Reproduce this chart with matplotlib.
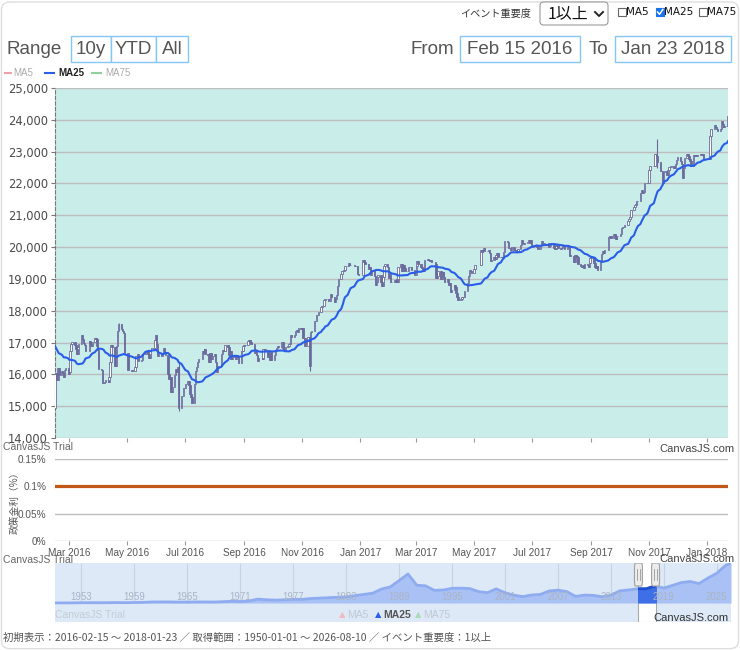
import numpy as np
import pandas as pd
import matplotlib
matplotlib.use("Agg")
import matplotlib.pyplot as plt
import matplotlib.dates as mdates
import matplotlib.transforms as mtransforms
from matplotlib.patches import Rectangle, FancyBboxPatch
from matplotlib.lines import Line2D

W, H = 740, 650
NARROW = ["Liberation Sans Narrow", "Liberation Sans", "DejaVu Sans"]
CJK = ["Noto Sans CJK JP", "DejaVu Sans"]

# --- data ---------------------------------------------------------------
# closes 2016-01-08 .. 2016-02-12 (not shown, used for MA25 and the first open)
prior_close = [17698, 17219, 17716, 17241, 17147, 16956, 17049, 16417, 16018, 16959,
               17111, 16709, 17164, 17041, 17518, 17866, 17751, 17192, 17045, 16820,
               17005, 16085, 15713, 14953]

# daily closes 2016-02-15 .. 2018-01-23
close = [
    # 2016-02
    16022, 16054, 15836, 16197, 15967, 16111, 16052, 15916, 16140, 16188, 16027,
    # 2016-03
    16085, 16747, 16960, 17015, 16911, 16784, 16642, 16852, 16939, 17233, 17117,
    16974, 16937, 16725, 17049, 17001, 16892, 17002, 17135, 17104, 16879, 16759,
    # 2016-04
    16164, 16123, 15733, 15715, 15750, 15821, 15751, 15928, 16381, 16911,
    16848, 16276, 16874, 16906, 17363, 17572, 17440, 17353, 17290, 16666,
    # 2016-05
    16147, 16106, 16216, 16565, 16579, 16646, 16412, 16467, 16653, 16645,
    16646, 16736, 16655, 16499, 16758, 16773, 16835, 17069, 17235,
    # 2016-06
    16956, 16563, 16642, 16580, 16676, 16830, 16669, 16602, 16020, 15859, 15920,
    15434, 15600, 15966, 16169, 16065, 16238, 14952, 15310, 15323, 15567, 15576,
    # 2016-07
    15682, 15776, 15670, 15379, 15277, 15107, 15709, 16096, 16231, 16386,
    16498, 16724, 16682, 16811, 16628, 16620, 16383, 16665, 16477, 16569,
    # 2016-08
    16636, 16391, 16084, 16255, 16254, 16651, 16765, 16736, 16920, 16870, 16596,
    16746, 16487, 16546, 16599, 16498, 16597, 16556, 16361, 16737, 16725, 16887,
    # 2016-09
    16927, 16926, 17038, 17082, 17012, 16959, 16965, 16673, 16730, 16615,
    16406, 16519, 16492, 16808, 16754, 16545, 16683, 16466, 16694, 16450,
    # 2016-10
    16599, 16736, 16819, 16899, 16860, 17025, 16840, 16775, 16856, 16900,
    16964, 16999, 17236, 17185, 17235, 17366, 17392, 17337, 17446, 17425,
    # 2016-11
    17442, 17134, 16905, 17177, 17171, 16251, 17344, 17374, 17672, 17668,
    17862, 17862, 17967, 18106, 18162, 18333, 18381, 18357, 18307, 18308,
    # 2016-12
    18513, 18426, 18275, 18360, 18497, 18765, 18996, 19155, 19250, 19254, 19274,
    19401, 19392, 19494, 19444, 19428, 19397, 19403, 19401, 19146, 19114,
    # 2017-01
    19594, 19521, 19455, 19301, 19364, 19134, 19287, 19095, 18813, 18894,
    19072, 19138, 18891, 18788, 19057, 19402, 19467, 19369, 19041,
    # 2017-02
    19148, 18914, 18918, 18977, 18910, 19007, 18908, 19379, 19459, 19239,
    19438, 19347, 19235, 19252, 19381, 19380, 19372, 19284, 19108, 19119,
    # 2017-03
    19393, 19565, 19470, 19380, 19345, 19255, 19319, 19605, 19634, 19610, 19577,
    19590, 19522, 19456, 19041, 19086, 19263, 18986, 19203, 19218, 19063, 18909,
    # 2017-04
    18984, 18811, 18862, 18598, 18665, 18798, 18748, 18553, 18427, 18336,
    18356, 18419, 18433, 18431, 18621, 18876, 19080, 19290, 19252, 19197,
    # 2017-05
    19310, 19446, 19896, 19844, 19901, 19962, 19884, 19870, 19920, 19815,
    19554, 19591, 19679, 19614, 19743, 19814, 19687, 19683, 19678, 19651,
    # 2017-06
    19860, 20177, 20171, 19980, 19985, 19910, 20013, 19908, 19899, 19884, 19832,
    19943, 20068, 20230, 20139, 20111, 20133, 20154, 20225, 20130, 20220, 20033,
    # 2017-07
    20056, 20032, 20081, 19994, 19929, 20081, 20195, 20098, 20099, 20119,
    20000, 20021, 20144, 20100, 19976, 19955, 20050, 20080, 19960, 19925,
    # 2017-08
    19986, 20080, 20030, 19952, 20056, 19996, 19739, 19730, 19538, 19754, 19730,
    19703, 19470, 19394, 19384, 19434, 19353, 19453, 19450, 19363, 19507, 19646,
    # 2017-09
    19691, 19508, 19386, 19358, 19396, 19275, 19546, 19777, 19866, 19808,
    19910, 20299, 20310, 20347, 20297, 20398, 20330, 20268, 20364, 20356,
    # 2017-10
    20400, 20614, 20627, 20629, 20691, 20824, 20881, 20955, 21155, 21256, 21336,
    21363, 21449, 21458, 21697, 21805, 21708, 21740, 22008, 22012, 22012,
    # 2017-11
    22420, 22540, 22548, 22938, 22914, 22869, 22681, 22381, 22380, 22028,
    22351, 22397, 22262, 22417, 22524, 22551, 22496, 22487, 22597, 22725,
    # 2017-12
    22819, 22707, 22622, 22177, 22498, 22811, 22938, 22866, 22758, 22695, 22553,
    22902, 22868, 22892, 22866, 22903, 22939, 22892, 22912, 22784, 22765,
    # 2018-01
    23506, 23715, 23850, 23788, 23710, 23654, 23715, 23952, 23868, 23763,
    23808, 23816, 24124,
]

holidays = ["2016-03-21", "2016-04-29", "2016-05-03", "2016-05-04", "2016-05-05",
            "2016-07-18", "2016-08-11", "2016-09-19", "2016-09-22", "2016-10-10",
            "2016-11-03", "2016-11-23", "2016-12-23", "2017-01-02", "2017-01-03",
            "2017-01-09", "2017-03-20", "2017-05-03", "2017-05-04", "2017-05-05",
            "2017-07-17", "2017-08-11", "2017-09-18", "2017-10-09", "2017-11-03",
            "2017-11-23", "2018-01-01", "2018-01-02", "2018-01-03", "2018-01-08"]

# a few visible long shadows
wick_days = ["2016-04-22", "2016-06-24", "2016-11-09", "2017-11-09"]
wick_high = [17613, 16390, 17260, 23382]
wick_low = [17400, 14864, 16111, 22478]

policy_rate = 0.1  # %

# navigator: long history (value at start of each year)
nav_year = list(range(1950, 2027)) + [2026.61]
nav_value = [109, 101, 166, 362, 377, 356, 425, 549, 474, 666,
             874, 1357, 1432, 1420, 1226, 1217, 1417, 1430, 1284, 1715,
             2359, 1987, 2714, 5208, 4307, 3817, 4359, 4991, 4866, 6002,
             6570, 7116, 7682, 8017, 9894, 11543, 13113, 18701, 21564, 30159,
             38916, 23849, 22984, 16925, 17417, 19723, 19868, 19361, 15259, 13842,
             18934, 13786, 10543, 8579, 10677, 11489, 16111, 17226, 15308, 8860,
             10546, 10229, 8455, 10395, 16291, 17451, 19034, 19114, 22765, 20015,
             23657, 27444, 28792, 26095, 33464, 39895, 50339, 53600]
nav_labels = [1953, 1959, 1965, 1971, 1977, 1983, 1989, 1995, 2001, 2007, 2013, 2019, 2025]
sel_start, sel_end = 2016.12, 2018.06

start, end = "2016-02-15", "2018-01-23"
tick_dates = pd.date_range("2016-03-01", "2018-01-01", freq="2MS")

# --- prep ---------------------------------------------------------------
days = pd.bdate_range(start, end)
days = days[~days.isin(pd.to_datetime(holidays))]
n = min(len(days), len(close))
x = mdates.date2num(days[:n])
c = np.array(close[:n], dtype=float)
o = np.array([prior_close[-1]] + close[:n - 1], dtype=float)
ma25 = pd.Series(prior_close + close).rolling(25).mean().to_numpy()[len(prior_close):][:n]

x0, x1 = mdates.date2num(pd.Timestamp(start)), mdates.date2num(pd.Timestamp(end))
ticks_num = mdates.date2num(tick_dates)

fig = plt.figure(figsize=(W / 100, H / 100), dpi=100)
fig.patch.set_facecolor("white")


def px_axes(a, b, c_, d):
    return fig.add_axes([a / W, 1 - d / H, (c_ - a) / W, (d - b) / H])


def ftext(px, py, s, **kw):
    kw.setdefault("va", "center")
    return fig.text(px / W, 1 - py / H, s, **kw)


def fbox(a, b, c_, d, rounded=0, **kw):
    if rounded:
        p = FancyBboxPatch((a / W, 1 - d / H), (c_ - a) / W, (d - b) / H,
                           boxstyle="round,pad=0,rounding_size=%f" % (rounded / W),
                           transform=fig.transFigure, **kw)
    else:
        p = Rectangle((a / W, 1 - d / H), (c_ - a) / W, (d - b) / H,
                      transform=fig.transFigure, **kw)
    fig.patches.append(p)
    return p


def fline(xs, ys, **kw):
    fig.lines.append(Line2D([v / W for v in xs], [1 - v / H for v in ys],
                            transform=fig.transFigure, **kw))


# outer frame
fig.patches.append(FancyBboxPatch((0.002, 0.002), 0.996, 0.995,
                                  boxstyle="round,pad=0,rounding_size=0.012",
                                  transform=fig.transFigure, fill=False,
                                  edgecolor="#dedede", linewidth=1))

# --- main candle chart ------------------------------------------------------
cand = "#6a6a9c"
ax = px_axes(55, 88, 728, 438)
ax.set_facecolor("#c9ede9")
up = c >= o
lo = np.minimum(o, c)
hgt = np.abs(c - o)
wx = mdates.date2num(pd.to_datetime(wick_days))
ax.vlines(wx, wick_low, wick_high, color=cand, linewidth=0.8, zorder=3)
ax.bar(x[up], hgt[up], bottom=lo[up], width=1.5, color="white",
       edgecolor=cand, linewidth=0.6, zorder=4)
ax.bar(x[~up], hgt[~up], bottom=lo[~up], width=1.5, color=cand,
       edgecolor=cand, linewidth=0.6, zorder=4)
ax.plot(x, ma25, color="#2a5ee8", linewidth=1.5, zorder=5)
ax.set_xlim(x0, x1)
ax.set_ylim(14000, 25000)
ax.set_yticks(range(14000, 25001, 1000))
ax.yaxis.set_major_formatter(matplotlib.ticker.FuncFormatter(lambda v, p: f"{int(v):,}"))
ax.grid(axis="y", color="#bdbdbd", linewidth=1)
ax.set_axisbelow(True)
ax.set_xticks(ticks_num)
ax.tick_params(axis="x", length=3, color="#999999", labelbottom=False)
ax.tick_params(axis="y", length=3, color="#777777", labelcolor="#4a4a4a",
               labelsize=8.3, pad=2)
for s in ["top", "right", "bottom"]:
    ax.spines[s].set_visible(False)
ax.spines["left"].set_linestyle((0, (3, 2)))
ax.spines["left"].set_color("#777777")
ax.spines["left"].set_linewidth(0.8)

# --- policy rate panel --------------------------------------------------
ax2 = px_axes(55, 459, 728, 541)
ax2.axhline(policy_rate, color="#c2571a", linewidth=2.3, zorder=3)
ax2.set_xlim(x0, x1)
ax2.set_ylim(0, 0.15)
ax2.set_yticks([0, 0.05, 0.1, 0.15])
ax2.set_yticklabels(["0%", "0.05%", "0.1%", "0.15%"], family=NARROW)
ax2.grid(axis="y", color="#bdbdbd", linewidth=1)
ax2.set_xticks(ticks_num)
ax2.set_xticklabels([d.strftime("%b %Y") for d in tick_dates], family=NARROW)
ax2.tick_params(axis="x", length=3, color="#999999", labelcolor="#555555",
                labelsize=7.2, pad=2)
ax2.tick_params(axis="y", length=0, labelcolor="#555555", labelsize=7.2, pad=6)
for s in ax2.spines.values():
    s.set_visible(False)
ftext(15, 500, "政策金利（%）", rotation=90, ha="center", fontsize=7,
      color="#555555", family=CJK)

# --- navigator ------------------------------------------------------------
ymax = max(nav_value)
ax3 = px_axes(55, 563, 731, 622)
ax3.set_facecolor("#dde9f7")
ax3.set_xlim(1950, 2026.61)
ax3.set_ylim(-19 / 40 * ymax, ymax)
ax3.add_patch(Rectangle((sel_start, -19 / 40 * ymax), sel_end - sel_start,
                        1.5 * ymax, facecolor="white", edgecolor="#aaaaaa",
                        linewidth=0.8, zorder=0.5))
ax3.vlines(nav_labels, 0, ymax, color="#c8d3e0", linewidth=0.8, zorder=1)
ax3.fill_between(nav_year, 0, nav_value, color="#a9c1f4", linewidth=0, zorder=2)
ax3.plot(nav_year, nav_value, color="#90acf0", linewidth=2, zorder=2)
clip = Rectangle((sel_start, 0), sel_end - sel_start, ymax, transform=ax3.transData)
dark = ax3.fill_between(nav_year, 0, nav_value, color="#3f6fe6", linewidth=0, zorder=3)
dark.set_clip_path(clip)
dline, = ax3.plot(nav_year, nav_value, color="#1f4fd0", linewidth=2, zorder=3)
dline.set_clip_path(clip)
for yr in nav_labels:
    ax3.text(yr, 0.03 * ymax, str(yr), ha="center", va="bottom", fontsize=7,
             color="#a9b4c4", family=NARROW, zorder=4)
blend = mtransforms.blended_transform_factory(ax3.transData, ax3.transAxes)
for hx in (sel_start, sel_end):
    ax3.add_patch(FancyBboxPatch((hx - 0.45, 0.61), 0.9, 0.39,
                                 boxstyle="round,pad=0,rounding_size=0.1",
                                 transform=blend, facecolor="#ececec",
                                 edgecolor="#a0a0a0", linewidth=0.8, zorder=6))
    for dx in (-0.13, 0.13):
        ax3.plot([hx + dx, hx + dx], [0.72, 0.9], transform=blend,
                 color="#999999", linewidth=0.6, zorder=7)
ax3.set_xticks([])
ax3.set_yticks([])
for s in ax3.spines.values():
    s.set_visible(False)
ftext(55, 615, "CanvasJS Trial", fontsize=7.5, color="#c4ccd6", family=NARROW)
ftext(339, 615, "▲", fontsize=6, color="#f2b8c0")
ftext(347, 615, "MA5", fontsize=7.5, color="#c0c8d4", family=NARROW)
ftext(375, 615, "▲", fontsize=6, color="#2a5ee8")
ftext(383, 615, "MA25", fontsize=7.5, color="#555555", family=NARROW, weight="bold")
ftext(415, 615, "▲", fontsize=6, color="#a8dcb8")
ftext(423, 615, "MA75", fontsize=7.5, color="#c0c8d4", family=NARROW)
ftext(728, 618, "CanvasJS.com", fontsize=8, color="#333333", family=NARROW, ha="right")

# watermarks
ftext(3, 447, "CanvasJS Trial", fontsize=7.5, color="#666666", family=NARROW)
ftext(735, 449, "CanvasJS.com", fontsize=8, color="#444444", family=NARROW, ha="right")
ftext(3, 560, "CanvasJS Trial", fontsize=7.5, color="#666666", family=NARROW)
ftext(735, 559, "CanvasJS.com", fontsize=8, color="#444444", family=NARROW, ha="right")

# --- header controls ---------------------------------------------------------
ftext(460, 14, "イベント重要度", fontsize=7.3, color="#333333", family=CJK)
fbox(540, 2, 608, 25, rounded=4, facecolor="white", edgecolor="#9a9a9a", linewidth=0.8)
ftext(548, 14, "1以上", fontsize=11.5, color="#111111", family=CJK)
fline([595, 599, 603], [12, 16, 12], color="#222222", linewidth=1.4)
fbox(618, 8, 626, 16, facecolor="white", edgecolor="#666666", linewidth=0.8)
ftext(626, 12, "MA5", fontsize=7.5, color="#111111")
fbox(656, 8, 664, 16, facecolor="#1a73e8", edgecolor="#1a73e8", linewidth=0.8)
fline([657.5, 659.5, 662.8], [12, 14.3, 9.5], color="white", linewidth=1.1)
ftext(664, 12, "MA25", fontsize=7.5, color="#111111")
fbox(699, 8, 707, 16, facecolor="white", edgecolor="#666666", linewidth=0.8)
ftext(707, 12, "MA75", fontsize=7.5, color="#111111")

btn_edge = "#86c6f2"
hdr = 13.5
ftext(7, 49, "Range", fontsize=hdr, color="#555555", family=NARROW)
for label, a, b in [("10y", 71, 111), ("YTD", 111, 156), ("All", 156, 188)]:
    fbox(a, 36, b, 62, facecolor="white", edgecolor=btn_edge, linewidth=1)
    ftext((a + b) / 2, 49, label, fontsize=hdr, color="#555555", family=NARROW,
          ha="center")
ftext(454, 49, "From", fontsize=hdr, color="#555555", family=NARROW, ha="right")
fbox(460, 36, 580, 62, facecolor="white", edgecolor=btn_edge, linewidth=1)
ftext(520, 49, "Feb 15 2016", fontsize=hdr, color="#555555", family=NARROW, ha="center")
ftext(608, 49, "To", fontsize=hdr, color="#555555", family=NARROW, ha="right")
fbox(615, 36, 731, 62, facecolor="white", edgecolor=btn_edge, linewidth=1)
ftext(673, 49, "Jan 23 2018", fontsize=hdr, color="#555555", family=NARROW, ha="center")

# legend row
fline([5, 11], [73, 73], color="#f0a0a8", linewidth=1.5)
ftext(13, 73, "MA5", fontsize=7, color="#aaaaaa", family=NARROW)
fline([45, 54], [73, 73], color="#2a5ee8", linewidth=1.5)
ftext(58, 73, "MA25", fontsize=7, color="#222222", family=NARROW, weight="bold")
fline([92, 101], [73, 73], color="#90d0a0", linewidth=1.5)
ftext(105, 73, "MA75", fontsize=7, color="#aaaaaa", family=NARROW)

# footer
ftext(3, 638, "初期表示：2016-02-15 ～ 2018-01-23 ／ 取得範囲：1950-01-01 ～ 2026-08-10 ／ イベント重要度：1以上",
      fontsize=7.5, color="#555555", family=CJK)

fig.savefig("out.png", dpi=100)
